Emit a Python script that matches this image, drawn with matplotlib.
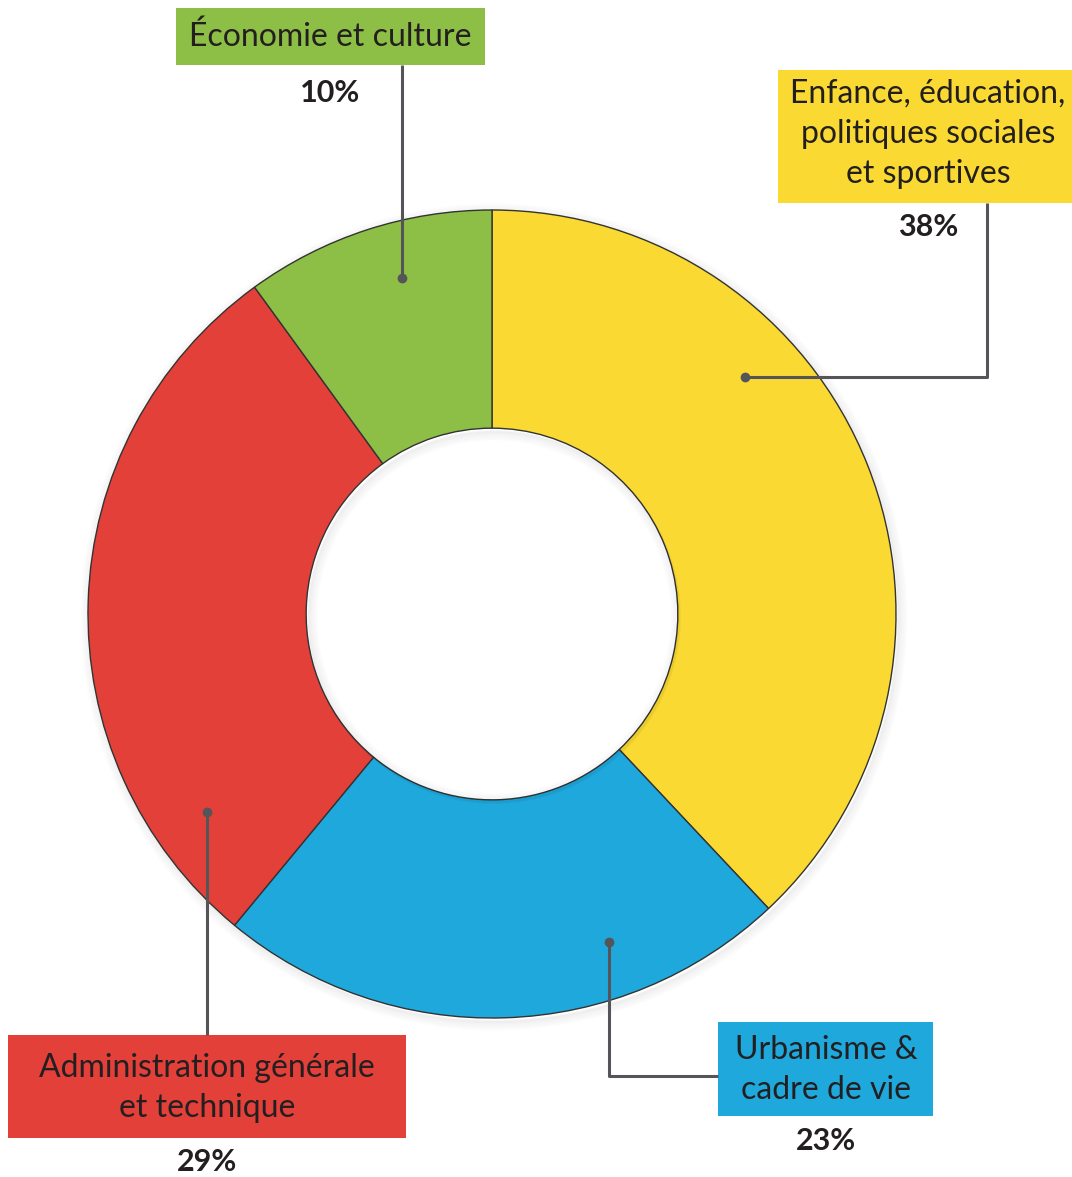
import matplotlib.pyplot as plt
from matplotlib.patches import Rectangle, Circle

plt.rcParams['font.family'] = ['Lato', 'DejaVu Sans']

# data, clockwise from the top
categories = ['Enfance, éducation,\npolitiques sociales\net sportives',
              'Urbanisme &\ncadre de vie',
              'Administration générale\net technique',
              'Économie et culture']
shares = [38, 23, 29, 10]
colors = ['#F9D932', '#1EA8DC', '#E3403A', '#8DBE45']

W, H = 1072, 1177
fig = plt.figure(figsize=(W / 100, H / 100), dpi=100)
ax = fig.add_axes([0, 0, 1, 1])

cx, cy, r = 492, 614, 404
rin = r * 0.46

# soft shadow around the ring and inside the hole
for k in range(10):
    ax.add_patch(Circle((cx + 2, cy + 3), r + k, fill=False, ec='#000000',
                        alpha=0.035 * (1 - k / 10), lw=1.5, zorder=0))
    ax.add_patch(Circle((cx + 2, cy + 3), rin - k, fill=False, ec='#000000',
                        alpha=0.035 * (1 - k / 10), lw=1.5, zorder=3))

# y axis is inverted below, so data counter-clockwise reads clockwise
wedges, _ = ax.pie(shares, colors=colors, startangle=-90, counterclock=True,
                   radius=r, center=(cx, cy), frame=True,
                   wedgeprops=dict(width=r - rin, edgecolor='#333333', linewidth=1.0))
ax.set_xlim(0, W)
ax.set_ylim(H, 0)
ax.set_aspect('equal')
ax.axis('off')

# label boxes: (x0, y0, x1, y1), text centre, percent position
boxes = [
    ((778, 70, 1072, 203), 928, 134, (928, 227)),
    ((718, 1022, 933, 1116), 826, 1070, (826, 1141)),
    ((8, 1035, 406, 1138), 207, 1088, (207, 1162)),
    ((176, 8, 485, 65), 330, 37, (330, 93)),
]
for (b, tx, ty, pp), lab, s, c in zip(boxes, categories, shares, colors):
    x0, y0, x1, y1 = b
    ax.add_patch(Rectangle((x0, y0), x1 - x0, y1 - y0, facecolor=c, edgecolor='none', zorder=3))
    ax.text(tx, ty, lab, ha='center', va='center', fontsize=23, color='#231F20',
            linespacing=1.42, zorder=4)
    ax.text(pp[0], pp[1], f'{s}%', ha='center', va='center', fontsize=22,
            fontweight='bold', color='#231F20', zorder=4)

# leader lines
line_kw = dict(color='#555559', lw=2.2, zorder=5, solid_capstyle='butt')
dot_kw = dict(color='#555559', marker='o', ms=6, zorder=6)
ax.plot([402, 402], [65, 278], **line_kw)
ax.plot([402], [278], **dot_kw)
ax.plot([987, 987, 745], [203, 377, 377], **line_kw)
ax.plot([745], [377], **dot_kw)
ax.plot([207, 207], [812, 1035], **line_kw)
ax.plot([207], [812], **dot_kw)
ax.plot([609, 609, 718], [942, 1076, 1076], **line_kw)
ax.plot([609], [942], **dot_kw)

fig.savefig('out.png', dpi=100)
